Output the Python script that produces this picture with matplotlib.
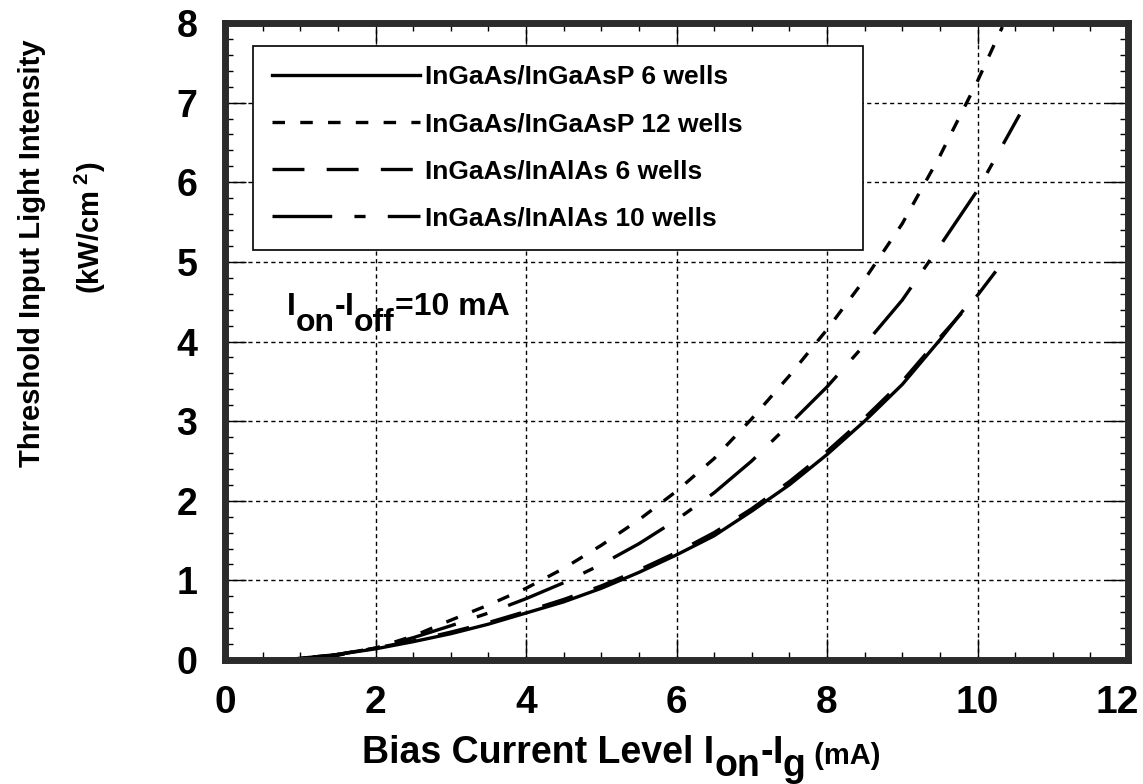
# threshold input light intensity vs bias current
import matplotlib
matplotlib.use('Agg')
from matplotlib import pyplot as plt
from matplotlib.ticker import MultipleLocator, FuncFormatter

plt.rcParams['font.family'] = ['Liberation Sans', 'DejaVu Sans']
plt.rcParams['font.weight'] = 'bold'
plt.rcParams['mathtext.fontset'] = 'custom'
plt.rcParams['mathtext.rm'] = 'Liberation Sans:bold'
plt.rcParams['mathtext.it'] = 'Liberation Sans:bold'
plt.rcParams['mathtext.bf'] = 'Liberation Sans:bold'
plt.rcParams['lines.scale_dashes'] = False

# InGaAs/InGaAsP 6 wells (solid)
x_p6 = [0.7, 1.0, 1.5, 2.0, 2.5, 3.0, 3.5, 4.0, 4.5, 5.0, 5.5, 6.0, 6.5, 7.0,
        7.5, 8.0, 8.5, 9.0, 9.5, 9.8]
y_p6 = [0.0, 0.02, 0.07, 0.14, 0.23, 0.33, 0.45, 0.59, 0.73, 0.9, 1.1, 1.32,
        1.56, 1.87, 2.2, 2.58, 3.0, 3.46, 4.02, 4.38]

# InGaAs/InGaAsP 12 wells (short dash)
x_p12 = [0.8, 1.0, 1.5, 2.0, 2.5, 3.0, 3.5, 4.0, 4.5, 5.0, 5.5, 6.0, 6.5, 7.0,
         7.5, 8.0, 8.5, 9.0, 9.5, 10.0, 10.33]
y_p12 = [0.0, 0.02, 0.07, 0.15, 0.3, 0.5, 0.69, 0.9, 1.15, 1.44, 1.76, 2.12,
         2.53, 3.03, 3.57, 4.15, 4.78, 5.48, 6.33, 7.27, 7.95]

# InGaAs/InAlAs 6 wells (long dash)
x_a6 = [0.7, 1.0, 1.5, 2.0, 2.5, 3.0, 3.5, 4.0, 4.5, 5.0, 5.5, 6.0, 6.5, 7.0,
        7.5, 8.0, 8.5, 9.0, 9.5, 10.0, 10.25]
y_a6 = [0.0, 0.02, 0.07, 0.15, 0.24, 0.35, 0.47, 0.61, 0.76, 0.93, 1.13, 1.35,
        1.6, 1.9, 2.24, 2.62, 3.04, 3.5, 4.05, 4.58, 4.89]

# InGaAs/InAlAs 10 wells (long - short)
x_a10 = [0.8, 1.5, 2.0, 2.5, 3.0, 3.5, 4.0, 4.5, 5.0, 5.5, 6.0, 6.5, 7.0, 7.5,
         8.0, 8.5, 9.0, 9.5, 10.0, 10.56]
y_a10 = [0.0, 0.06, 0.15, 0.28, 0.43, 0.59, 0.77, 0.97, 1.2, 1.46, 1.76, 2.1,
         2.5, 2.96, 3.43, 3.96, 4.52, 5.2, 5.9, 6.85]

labels = ['InGaAs/InGaAsP 6 wells', 'InGaAs/InGaAsP 12 wells',
          'InGaAs/InAlAs 6 wells', 'InGaAs/InAlAs 10 wells']

fig = plt.figure(figsize=(11.43, 7.84), dpi=100)
ax = fig.add_axes([225/1143, 1 - 660/784, 903/1143, 637/784])

lw = 2.4
ax.plot(x_p6, y_p6, color='black', lw=lw, label=labels[0])
ax.plot(x_p12, y_p12, color='black', lw=lw, dashes=(9, 11), label=labels[1])
ax.plot(x_a6, y_a6, color='black', lw=lw, dashes=(23, 16), label=labels[2])
ax.plot(x_a10, y_a10, color='black', lw=lw, dashes=(43, 16, 8, 16),
        label=labels[3])

ax.set_xlim(0, 12)
ax.set_ylim(0, 8)
ax.xaxis.set_major_locator(MultipleLocator(2))
ax.xaxis.set_minor_locator(MultipleLocator(0.5))
ax.yaxis.set_major_locator(MultipleLocator(1))
ax.yaxis.set_minor_locator(MultipleLocator(0.2))
# the last label ("12") is drawn separately so it stays inside the figure
ax.xaxis.set_major_formatter(FuncFormatter(lambda v, p: '' if v > 11 else f'{v:g}'))
ax.tick_params(which='both', direction='in', top=True, right=True,
               color='black', width=1)
ax.tick_params(which='major', length=15, pad=20)
ax.tick_params(which='minor', length=5.5)
ax.tick_params(axis='y', labelsize=27)
ax.tick_params(axis='x', labelsize=28, pad=18)
ax.annotate('12', xy=(12, 0), xycoords='data', xytext=(-8, -18),
            textcoords='offset points', ha='center', va='top', fontsize=28,
            fontweight='bold', annotation_clip=False)

ax.grid(True, which='major', color='black', linestyle=(0, (3, 2.5)), lw=1.0)
ax.set_axisbelow(True)
for s in ax.spines.values():
    s.set_linewidth(5)
    s.set_color('#2b2b2b')

leg = ax.legend(loc='upper left', bbox_to_anchor=(0.031, 0.6, 0.675, 0.364),
                mode='expand', fontsize=19, handlelength=5.6,
                handletextpad=0.2, borderpad=0.72, labelspacing=0.88,
                fancybox=False, framealpha=1, edgecolor='black',
                borderaxespad=0)
leg.get_frame().set_linewidth(1.2)
for t in leg.get_texts():
    t.set_fontweight('bold')


def chain(first, pieces):
    prev = first
    for s, dx, dy, size in pieces:
        prev = ax.annotate(s, xy=(1, 0), xycoords=prev, xytext=(dx, dy),
                           textcoords='offset points', va='bottom', ha='left',
                           fontsize=size, fontweight='bold',
                           annotation_clip=False)
    return prev


# I_on - I_off annotation
t0 = ax.text(0.82, 4.33, 'I', fontsize=23, fontweight='bold', va='baseline')
chain(t0, [('on', 0, -11, 23), ('-', 0, 11, 23), ('I', 0, 0, 23),
           ('off', 0, -11, 23), ('=10 mA', 0, 11, 23)])

# x label
x0 = fig.text(362/1143, 1 - 763/784, 'Bias Current Level I', fontsize=27,
              fontweight='bold', va='baseline')
chain(x0, [('on', 0, -9, 27), ('-', 0, 9, 27), ('I', 0, 0, 27),
           ('g', 0, -9, 27), (' (mA)', 0, 10, 21)])

# y label (two lines)
fig.text(32/1143, 1 - 253/784, 'Threshold Input Light Intensity',
         rotation=90, fontsize=21, fontweight='bold',
         ha='center', va='center')
fig.text(90/1143, 1 - 228/784, r'(kW/cm$^{\ 2}$)', rotation=90,
         fontsize=21, fontweight='bold', ha='center', va='center')

fig.savefig('out.png', dpi=100)
